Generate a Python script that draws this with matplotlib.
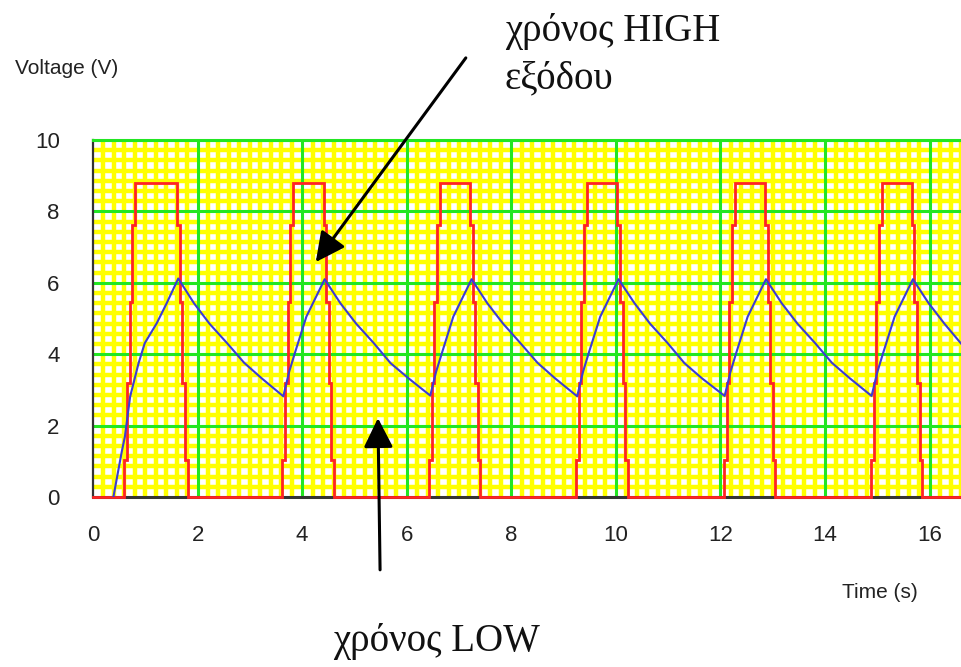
import matplotlib.pyplot as plt
from matplotlib.ticker import MultipleLocator

# ─── Data ───────────────────────────────────────────────────────────────────

# output pulses (red): x of the bottom of the rising / falling edges
pulse_rise = [0.60, 3.62, 6.43, 9.24, 12.07, 14.88]
pulse_fall = [1.81, 4.61, 7.41, 10.23, 13.05, 15.86]
edge_offsets = [0.0, 0.05, 0.10, 0.15, 0.20]   # staircase on each edge
edge_levels = [1.05, 3.20, 5.45, 7.63, 8.80]    # voltage reached at each step

# capacitor voltage (blue)
cap_t = [0.39, 0.55, 0.61, 0.71, 0.87, 0.99, 1.22, 1.41, 1.63,
         1.93, 2.23, 2.57, 2.89, 3.23, 3.64,
         3.75, 3.86, 4.08, 4.43,
         4.73, 5.03, 5.37, 5.69, 6.03, 6.45,
         6.56, 6.67, 6.89, 7.24,
         7.54, 7.84, 8.18, 8.50, 8.84, 9.26,
         9.37, 9.48, 9.70, 10.05,
         10.35, 10.65, 10.99, 11.31, 11.65, 12.08,
         12.19, 12.30, 12.52, 12.87,
         13.17, 13.47, 13.81, 14.13, 14.47, 14.89,
         15.00, 15.11, 15.33, 15.68,
         15.98, 16.28, 16.60]
cap_v = [0.00, 1.27, 1.69, 2.81, 3.74, 4.31, 4.87, 5.43, 6.12,
         5.43, 4.85, 4.30, 3.76, 3.32, 2.82,
         3.50, 4.03, 5.05, 6.10,
         5.43, 4.86, 4.31, 3.75, 3.33, 2.84,
         3.50, 4.02, 5.05, 6.10,
         5.43, 4.86, 4.30, 3.76, 3.32, 2.82,
         3.50, 4.03, 5.05, 6.10,
         5.44, 4.86, 4.31, 3.75, 3.32, 2.83,
         3.50, 4.03, 5.05, 6.10,
         5.43, 4.86, 4.31, 3.76, 3.33, 2.83,
         3.50, 4.03, 5.05, 6.10,
         5.43, 4.86, 4.30]

x_ticks = [0, 2, 4, 6, 8, 10, 12, 14, 16]
y_ticks = [0, 2, 4, 6, 8, 10]
X_MAX = 16.6

# ─── Build red staircase path ───────────────────────────────────────────────

out_t, out_v = [0.0], [0.0]
for rise, fall in zip(pulse_rise, pulse_fall):
    prev = 0.0
    for off, lev in zip(edge_offsets, edge_levels):
        out_t += [rise + off, rise + off]
        out_v += [prev, lev]
        prev = lev
    for off, lev in zip(edge_offsets, edge_levels[::-1][1:] + [0.0]):
        xr = fall - edge_offsets[-1] + off
        out_t += [xr, xr]
        out_v += [prev, lev]
        prev = lev
out_t.append(X_MAX)
out_v.append(0.0)

# ─── Figure ─────────────────────────────────────────────────────────────────

GREEN = "#22e622"

fig = plt.figure(figsize=(9.61, 6.67), dpi=100)
ax = fig.add_axes([93 / 961, 170 / 667, 868 / 961, 357 / 667])
ax.set_facecolor("white")
ax.set_xlim(0, X_MAX)
ax.set_ylim(0, 10)

# fine yellow grid, then green major lines on top of it
ax.xaxis.set_minor_locator(MultipleLocator(0.2))
ax.yaxis.set_minor_locator(MultipleLocator(2 / 7))
ax.grid(which="minor", color="#ffff00", lw=3.2)
ax.set_axisbelow(True)
for xv in x_ticks[1:]:
    ax.axvline(xv, color=GREEN, lw=2.2, zorder=1)
for yv in y_ticks[1:]:
    ax.axhline(yv, color=GREEN, lw=2.2, zorder=1)

ax.set_xticks(x_ticks)
ax.set_yticks(y_ticks)
ax.tick_params(which="both", length=0)
ax.tick_params(labelsize=16, labelcolor="#222222")
ax.tick_params(axis="x", pad=20)
ax.tick_params(axis="y", pad=24)
for lbl in ax.get_xticklabels() + ax.get_yticklabels():
    lbl.set_fontfamily("Liberation Sans")

ax.spines["right"].set_visible(False)
ax.spines["top"].set_color(GREEN)
ax.spines["top"].set_linewidth(2.2)
ax.spines["left"].set_color("#333333")
ax.spines["left"].set_linewidth(1.6)
ax.spines["bottom"].set_color("#333333")
ax.spines["bottom"].set_linewidth(2.2)

ax.plot(out_t, out_v, color="#ff2424", lw=2.0, zorder=4, clip_on=False,
        solid_joinstyle="miter")
ax.plot(cap_t, cap_v, color="#3b3bd6", lw=1.5, zorder=5)

fig.text(67 / 961, 1 - 68 / 667, "Voltage (V)", ha="center", va="center",
         fontsize=15, color="#222222", family="Liberation Sans")
fig.text(880 / 961, 1 - 593 / 667, "Time (s)", ha="center", va="center",
         fontsize=15, color="#222222", family="Liberation Sans")

# annotations
arrow = dict(arrowstyle="-|>,head_length=0.6,head_width=0.3", lw=2.2,
             color="black", mutation_scale=30, shrinkA=0, shrinkB=0)
ax.annotate("", xy=(4.26, 6.58), xytext=(7.13, 12.3), arrowprops=arrow,
            annotation_clip=False, zorder=6)
ax.annotate("", xy=(5.45, 2.21), xytext=(5.49, -2.04), arrowprops=arrow,
            annotation_clip=False, zorder=6)

serif = dict(family="Liberation Serif", fontsize=28, color="#111111",
             va="baseline", ha="left")
fig.text(505 / 961, 1 - 41 / 667, "χρόνος HIGH", **serif)
fig.text(505 / 961, 1 - 88 / 667, "εξόδου", **serif)
fig.text(333 / 961, 1 - 651 / 667, "χρόνος LOW", **serif)

fig.savefig("out.png", dpi=100)
